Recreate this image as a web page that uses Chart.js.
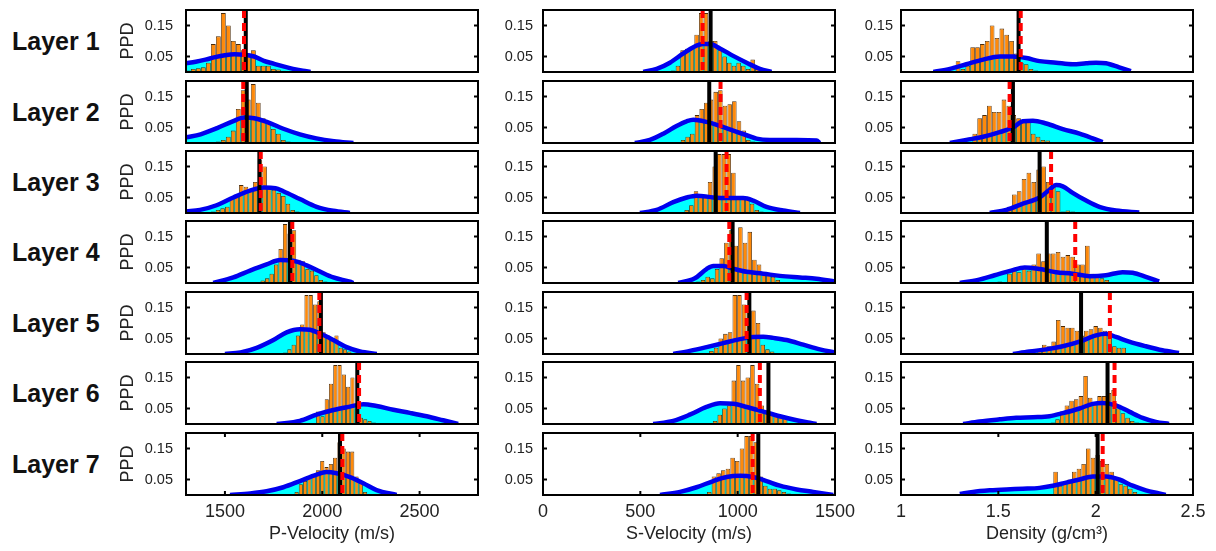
<!DOCTYPE html>
<html>
<head>
<meta charset="utf-8">
<script src="https://cdn.jsdelivr.net/npm/chart.js@4.4.1/dist/chart.umd.min.js"></script>
<style>
  body { margin: 0; background: #fff; width: 1216px; height: 551px; position: relative; overflow: hidden;
         font-family: "Liberation Sans", Arial, sans-serif; }
  .panel { position: absolute; }
  .layer { position: absolute; left: 12px; font-weight: bold; font-size: 25px; line-height: 28px; color: #111; }
</style>
</head>
<body>
<script>
// ---- data ----
const layers = ['Layer 1', 'Layer 2', 'Layer 3', 'Layer 4', 'Layer 5', 'Layer 6', 'Layer 7'];
const axisTitles = ['P-Velocity (m/s)', 'S-Velocity (m/s)', 'Density (g/cm\u00b3)'];
const ppdTicks = [0.05, 0.15];
const pvTicks = [1500, 2000, 2500];
const svTicks = [0, 500, 1000, 1500];
const dnTicks = [1, 1.5, 2, 2.5];

// P-velocity
const pvTrue = [1607, 1612, 1677, 1834, 1993, 2180, 2091];
const pvMean = [1598, 1594, 1684, 1846, 1985, 2189, 2103];
const pvBinStart = [1312, 1440, 1440, 1671, 1809, 1979, 1868];
const pvBinWidth = [25.7, 25.7, 24, 23, 22, 22, 22];
const pvHist = [
  [0.005, 0.01, 0.012, 0.015, 0.03, 0.09, 0.115, 0.19, 0.15, 0.1, 0.09, 0.07, 0.06, 0.07, 0.02, 0.02, 0.02, 0.01, 0.008, 0.004],
  [0.003, 0.005, 0.01, 0.02, 0.04, 0.11, 0.17, 0.14, 0.19, 0.13, 0.08, 0.07, 0.045, 0.03, 0.01, 0.005],
  [0.005, 0.01, 0.015, 0.02, 0.05, 0.06, 0.09, 0.085, 0.075, 0.1, 0.17, 0.15, 0.08, 0.075, 0.065, 0.055, 0.03, 0.01, 0.005],
  [0.003, 0.008, 0.015, 0.03, 0.06, 0.11, 0.19, 0.16, 0.17, 0.075, 0.07, 0.045, 0.04, 0.025, 0.01, 0.005],
  [0.005, 0.015, 0.03, 0.06, 0.095, 0.19, 0.19, 0.16, 0.17, 0.07, 0.06, 0.05, 0.06, 0.02, 0.015, 0.008, 0.003],
  [0.04, 0.025, 0.08, 0.13, 0.19, 0.19, 0.16, 0.12, 0.15, 0.05, 0.02, 0.015, 0.01, 0.005],
  [0.01, 0.035, 0.045, 0.06, 0.065, 0.08, 0.11, 0.09, 0.1, 0.12, 0.17, 0.15, 0.14, 0.14, 0.06, 0.04, 0.01]
];
const pvPrior = [
  [[1300,0.028],[1350,0.033],[1400,0.04],[1450,0.048],[1500,0.054],[1550,0.057],[1600,0.056],[1650,0.05],[1700,0.036],[1750,0.027],[1800,0.018],[1850,0.01],[1900,0.004],[1940,0]],
  [[1300,0.018],[1375,0.028],[1460,0.048],[1540,0.07],[1600,0.082],[1650,0.08],[1715,0.068],[1800,0.046],[1885,0.028],[1970,0.015],[2060,0.006],[2160,0]],
  [[1300,0.005],[1372,0.01],[1457,0.025],[1543,0.05],[1629,0.072],[1700,0.082],[1760,0.08],[1800,0.07],[1885,0.045],[1971,0.02],[2057,0.007],[2142,0]],
  [[1440,0],[1543,0.018],[1629,0.04],[1714,0.06],[1783,0.074],[1851,0.072],[1920,0.057],[1988,0.037],[2057,0.018],[2142,0.004],[2160,0]],
  [[1500,0],[1580,0.005],[1663,0.02],[1749,0.045],[1817,0.07],[1885,0.08],[1937,0.078],[1988,0.066],[2057,0.045],[2125,0.022],[2194,0.008],[2280,0]],
  [[1766,0],[1885,0.01],[1971,0.03],[2057,0.045],[2142,0.056],[2211,0.064],[2279,0.058],[2365,0.046],[2450,0.036],[2536,0.025],[2621,0.012],[2698,0]],
  [[1526,0],[1629,0.005],[1714,0.012],[1800,0.025],[1885,0.045],[1971,0.066],[2022,0.074],[2074,0.07],[2142,0.058],[2211,0.038],[2279,0.016],[2382,0]]
];

// S-velocity
const svTrue = [861, 854, 887, 974, 1060, 1158, 1106];
const svMean = [820, 912, 943, 957, 1046, 1114, 1077];
const svBinStart = [669, 695, 738, 798, 841, 884, 854];
const svBinWidth = [24, 24, 24, 24, 24, 24, 24];
const svHist = [
  [0.005, 0.02, 0.07, 0.075, 0.08, 0.12, 0.19, 0.19, 0.1, 0.1, 0.07, 0.05, 0.03, 0.02, 0.03, 0.02, 0.01, 0.04, 0.01, 0.005],
  [0.003, 0.01, 0.02, 0.03, 0.09, 0.11, 0.13, 0.14, 0.165, 0.17, 0.12, 0.125, 0.135, 0.07, 0.04, 0.01, 0.005],
  [0.01, 0.025, 0.07, 0.055, 0.06, 0.1, 0.15, 0.19, 0.19, 0.19, 0.13, 0.055, 0.05, 0.045, 0.03, 0.01, 0.005],
  [0.005, 0.01, 0.02, 0.015, 0.045, 0.08, 0.13, 0.17, 0.12, 0.18, 0.13, 0.165, 0.075, 0.06, 0.035, 0.03, 0.02, 0.01],
  [0.003, 0.01, 0.02, 0.05, 0.065, 0.07, 0.19, 0.19, 0.16, 0.15, 0.14, 0.1, 0.03, 0.015, 0.008],
  [0.01, 0.03, 0.05, 0.06, 0.14, 0.19, 0.14, 0.15, 0.19, 0.13, 0.06, 0.04, 0.03, 0.025, 0.02, 0.02],
  [0.01, 0.06, 0.07, 0.08, 0.085, 0.12, 0.11, 0.15, 0.19, 0.19, 0.17, 0.06, 0.03, 0.02, 0.02, 0.015, 0.01, 0.005]
];
const svPrior = [
  [[515,0],[584,0.01],[652,0.03],[721,0.06],[772,0.08],[823,0.09],[857,0.09],[909,0.076],[977,0.052],[1046,0.03],[1114,0.01],[1174,0]],
  [[472,0],[549,0.01],[618,0.03],[686,0.055],[738,0.07],[772,0.075],[840,0.068],[909,0.055],[977,0.04],[1046,0.025],[1097,0.014],[1166,0.01],[1303,0.01],[1405,0.008],[1422,0]],
  [[498,0],[584,0.01],[669,0.035],[738,0.05],[789,0.056],[875,0.05],[943,0.048],[1029,0.048],[1080,0.04],[1148,0.02],[1234,0.008],[1320,0]],
  [[695,0],[780,0.015],[840,0.045],[875,0.055],[926,0.055],[977,0.046],[1046,0.036],[1131,0.03],[1217,0.023],[1320,0.018],[1405,0.014],[1500,0.005]],
  [[669,0],[754,0.01],[840,0.022],[926,0.035],[1012,0.048],[1080,0.055],[1131,0.056],[1183,0.052],[1251,0.045],[1337,0.03],[1422,0.015],[1500,0.005]],
  [[566,0],[669,0.01],[754,0.03],[840,0.055],[909,0.067],[977,0.065],[1046,0.055],[1131,0.04],[1217,0.025],[1303,0.012],[1371,0.004],[1405,0]],
  [[601,0],[704,0.01],[789,0.025],[875,0.045],[943,0.058],[1012,0.062],[1080,0.058],[1148,0.045],[1217,0.03],[1303,0.018],[1388,0.01],[1491,0]]
];

// Density
const dnTrue = [1.604, 1.575, 1.712, 1.749, 1.925, 2.061, 2.010];
const dnMean = [1.615, 1.558, 1.771, 1.895, 2.073, 2.097, 2.036];
const dnBinStart = [1.293, 1.379, 1.532, 1.507, 1.712, 1.78, 1.794];
const dnBinWidth = [0.025, 0.025, 0.025, 0.025, 0.024, 0.024, 0.024];
const dnHist = [
  [0.035, 0.01, 0.02, 0.08, 0.08, 0.09, 0.1, 0.15, 0.11, 0.14, 0.12, 0.1, 0.06, 0.03, 0.025, 0.01, 0.005],
  [0.03, 0.08, 0.09, 0.12, 0.1, 0.1, 0.14, 0.12, 0.09, 0.08, 0.075, 0.07, 0.03, 0.02, 0.01, 0.008],
  [0.01, 0.02, 0.06, 0.07, 0.11, 0.13, 0.1, 0.14, 0.15, 0.1, 0.09, 0.07, 0.005, 0.008, 0.005, 0.003],
  [0.005, 0.003, 0.03, 0.04, 0.035, 0.055, 0.04, 0.06, 0.095, 0.07, 0.095, 0.095, 0.1, 0.085, 0.09, 0.085, 0.06, 0.06, 0.12, 0.03, 0.02, 0.015, 0.01],
  [0.015, 0.03, 0.025, 0.04, 0.11, 0.09, 0.085, 0.085, 0.075, 0.06, 0.075, 0.08, 0.09, 0.085, 0.075, 0.06, 0.025, 0.02, 0.02],
  [0.005, 0.015, 0.04, 0.06, 0.075, 0.08, 0.09, 0.155, 0.085, 0.07, 0.09, 0.09, 0.1, 0.11, 0.05, 0.035, 0.02, 0.01, 0.005],
  [0.075, 0.03, 0.04, 0.05, 0.075, 0.085, 0.1, 0.15, 0.12, 0.13, 0.11, 0.1, 0.075, 0.05, 0.035, 0.03, 0.02, 0.01]
];
const dnPrior = [
  [[1.166,0],[1.251,0.01],[1.336,0.025],[1.422,0.04],[1.507,0.05],[1.575,0.05],[1.644,0.045],[1.712,0.035],[1.797,0.03],[1.882,0.025],[1.951,0.028],[2.002,0.03],[2.053,0.028],[2.121,0.015],[2.181,0.003]],
  [[1.251,0],[1.336,0.01],[1.422,0.02],[1.507,0.035],[1.575,0.05],[1.626,0.07],[1.678,0.072],[1.746,0.063],[1.831,0.045],[1.917,0.03],[1.985,0.015],[2.036,0.003]],
  [[1.456,0],[1.541,0.01],[1.626,0.03],[1.712,0.05],[1.763,0.075],[1.797,0.09],[1.831,0.086],[1.882,0.065],[1.951,0.04],[2.019,0.02],[2.104,0.008],[2.224,0.002]],
  [[1.302,0],[1.396,0.01],[1.481,0.025],[1.566,0.04],[1.635,0.05],[1.712,0.045],[1.797,0.035],[1.882,0.03],[1.968,0.022],[2.053,0.025],[2.138,0.035],[2.19,0.033],[2.258,0.02],[2.326,0.005]],
  [[1.575,0],[1.66,0.008],[1.746,0.015],[1.831,0.025],[1.917,0.04],[2.002,0.06],[2.053,0.065],[2.104,0.055],[2.172,0.04],[2.258,0.025],[2.343,0.012],[2.428,0.003]],
  [[1.319,0],[1.404,0.008],[1.507,0.015],[1.592,0.02],[1.678,0.022],[1.763,0.025],[1.831,0.035],[1.917,0.05],[1.985,0.065],[2.036,0.068],[2.104,0.06],[2.172,0.04],[2.241,0.02],[2.309,0.007],[2.377,0]],
  [[1.302,0.003],[1.37,0.01],[1.456,0.015],[1.541,0.018],[1.626,0.02],[1.712,0.023],[1.78,0.03],[1.848,0.04],[1.917,0.05],[1.985,0.06],[2.053,0.06],[2.121,0.05],[2.19,0.03],[2.258,0.015],[2.326,0.005],[2.36,0]]
];

// ---- layout ----
const FONT = '"Liberation Sans", Arial, sans-serif';
const columns = [
  { min: 1300, max: 2800, ticks: pvTicks, hist: pvHist, start: pvBinStart, width: pvBinWidth, prior: pvPrior, truth: pvTrue, mean: pvMean },
  { min: 0, max: 1500, ticks: svTicks, hist: svHist, start: svBinStart, width: svBinWidth, prior: svPrior, truth: svTrue, mean: svMean },
  { min: 1, max: 2.5, ticks: dnTicks, hist: dnHist, start: dnBinStart, width: dnBinWidth, prior: dnPrior, truth: dnTrue, mean: dnMean }
];
const colLeft = [186, 543, 901];
const yAxisW = [86, 60, 60];
const yTickPad = [13, 10, 8];
const rowTop = [10, 81, 151, 221, 292, 362, 433];
const plotW = 292, plotH = 62;

// box frame + inward tick marks
const framePlugin = {
  id: 'frame',
  afterDraw(chart) {
    const { ctx, chartArea: a, scales } = chart;
    ctx.save();
    ctx.strokeStyle = '#000';
    ctx.lineWidth = 2;
    ctx.strokeRect(a.left, a.top, a.right - a.left, a.bottom - a.top);
    ctx.beginPath();
    scales.y.ticks.forEach(t => {
      const py = scales.y.getPixelForValue(t.value);
      ctx.moveTo(a.left, py); ctx.lineTo(a.left + 4, py);
      ctx.moveTo(a.right - 4, py); ctx.lineTo(a.right, py);
    });
    if (scales.x.options.display) {
      scales.x.ticks.forEach(t => {
        const px = scales.x.getPixelForValue(t.value);
        ctx.moveTo(px, a.top); ctx.lineTo(px, a.top + 4);
        ctx.moveTo(px, a.bottom - 4); ctx.lineTo(px, a.bottom);
      });
    }
    ctx.stroke();
    ctx.restore();
  }
};

function makePanel(c, r) {
  const col = columns[c];
  const bottomRow = r === layers.length - 1;
  const left = colLeft[c] - yAxisW[c];
  const top = rowTop[r] - 4;
  const padRight = bottomRow ? 30 : 4;
  const w = yAxisW[c] + plotW + padRight;
  const h = bottomRow ? 551 - top : plotH + 8;

  const div = document.createElement('div');
  div.className = 'panel';
  div.style.left = left + 'px';
  div.style.top = top + 'px';
  const canvas = document.createElement('canvas');
  canvas.width = w; canvas.height = h;
  canvas.style.width = w + 'px'; canvas.style.height = h + 'px';
  div.appendChild(canvas);
  document.body.appendChild(div);

  const bars = col.hist[r].map((v, i) => ({ x: col.start[r] + i * col.width[r], y: v }));
  const prior = col.prior[r].map(p => ({ x: p[0], y: p[1] }));

  new Chart(canvas.getContext('2d'), {
    type: 'line',
    data: {
      datasets: [
        { type: 'bar', data: bars, backgroundColor: '#ff8a0a', borderColor: '#4a2a08', borderWidth: 0.8,
          borderSkipped: false, barPercentage: 0.96, categoryPercentage: 1, order: 3 },
        { data: prior, borderColor: '#0000ee', borderWidth: 4.5, backgroundColor: '#00ffff', fill: 'origin',
          pointRadius: 0, cubicInterpolationMode: 'monotone', order: 2 },
        { data: [{ x: col.truth[r], y: 0.2 }, { x: col.truth[r], y: 0 }], borderColor: '#000', borderWidth: 4,
          pointRadius: 0, fill: false, order: 1 },
        { data: [{ x: col.mean[r], y: 0.2 }, { x: col.mean[r], y: 0 }], borderColor: '#ff0000', borderWidth: 4,
          borderDash: [8, 5], pointRadius: 0, fill: false, order: 0 }
      ]
    },
    options: {
      responsive: false,
      animation: false,
      events: [],
      layout: { padding: { top: 4, right: padRight, bottom: bottomRow ? 0 : 4, left: 0 } },
      plugins: {
        legend: { display: false },
        tooltip: { enabled: false },
        filler: { drawTime: 'beforeDatasetsDraw' }
      },
      scales: {
        x: {
          type: 'linear', min: col.min, max: col.max, offset: false, display: bottomRow,
          grid: { display: false, drawTicks: false }, border: { display: false },
          afterBuildTicks: s => { s.ticks = col.ticks.map(v => ({ value: v })); },
          afterFit: s => {
            if (bottomRow) s.height = 551 - (rowTop[r] + plotH);
            s.paddingLeft = 0; s.paddingRight = 0;
          },
          ticks: { autoSkip: false, maxRotation: 0, padding: 6, color: '#222',
                   font: { family: FONT, size: 18 }, callback: v => String(v) },
          title: { display: true, text: axisTitles[c], color: '#222',
                   font: { family: FONT, size: 18 }, padding: { top: 0, bottom: 6 } }
        },
        y: {
          min: 0, max: 0.2,
          grid: { display: false, drawTicks: false }, border: { display: false },
          afterBuildTicks: s => { s.ticks = ppdTicks.map(v => ({ value: v })); },
          afterFit: s => { s.width = yAxisW[c]; s.paddingTop = 0; s.paddingBottom = 0; },
          ticks: { padding: yTickPad[c], color: '#222', font: { family: FONT, size: 14.5 },
                   callback: v => String(v) },
          title: { display: c === 0, text: 'PPD', color: '#222',
                   font: { family: FONT, size: 18 }, padding: { top: 17, bottom: 0 } }
        }
      }
    },
    plugins: [framePlugin]
  });
}

layers.forEach((name, r) => {
  const lab = document.createElement('div');
  lab.className = 'layer';
  lab.textContent = name;
  lab.style.top = (rowTop[r] + plotH / 2 - 14) + 'px';
  document.body.appendChild(lab);
  for (let c = 0; c < columns.length; c++) makePanel(c, r);
});
</script>
</body>
</html>
